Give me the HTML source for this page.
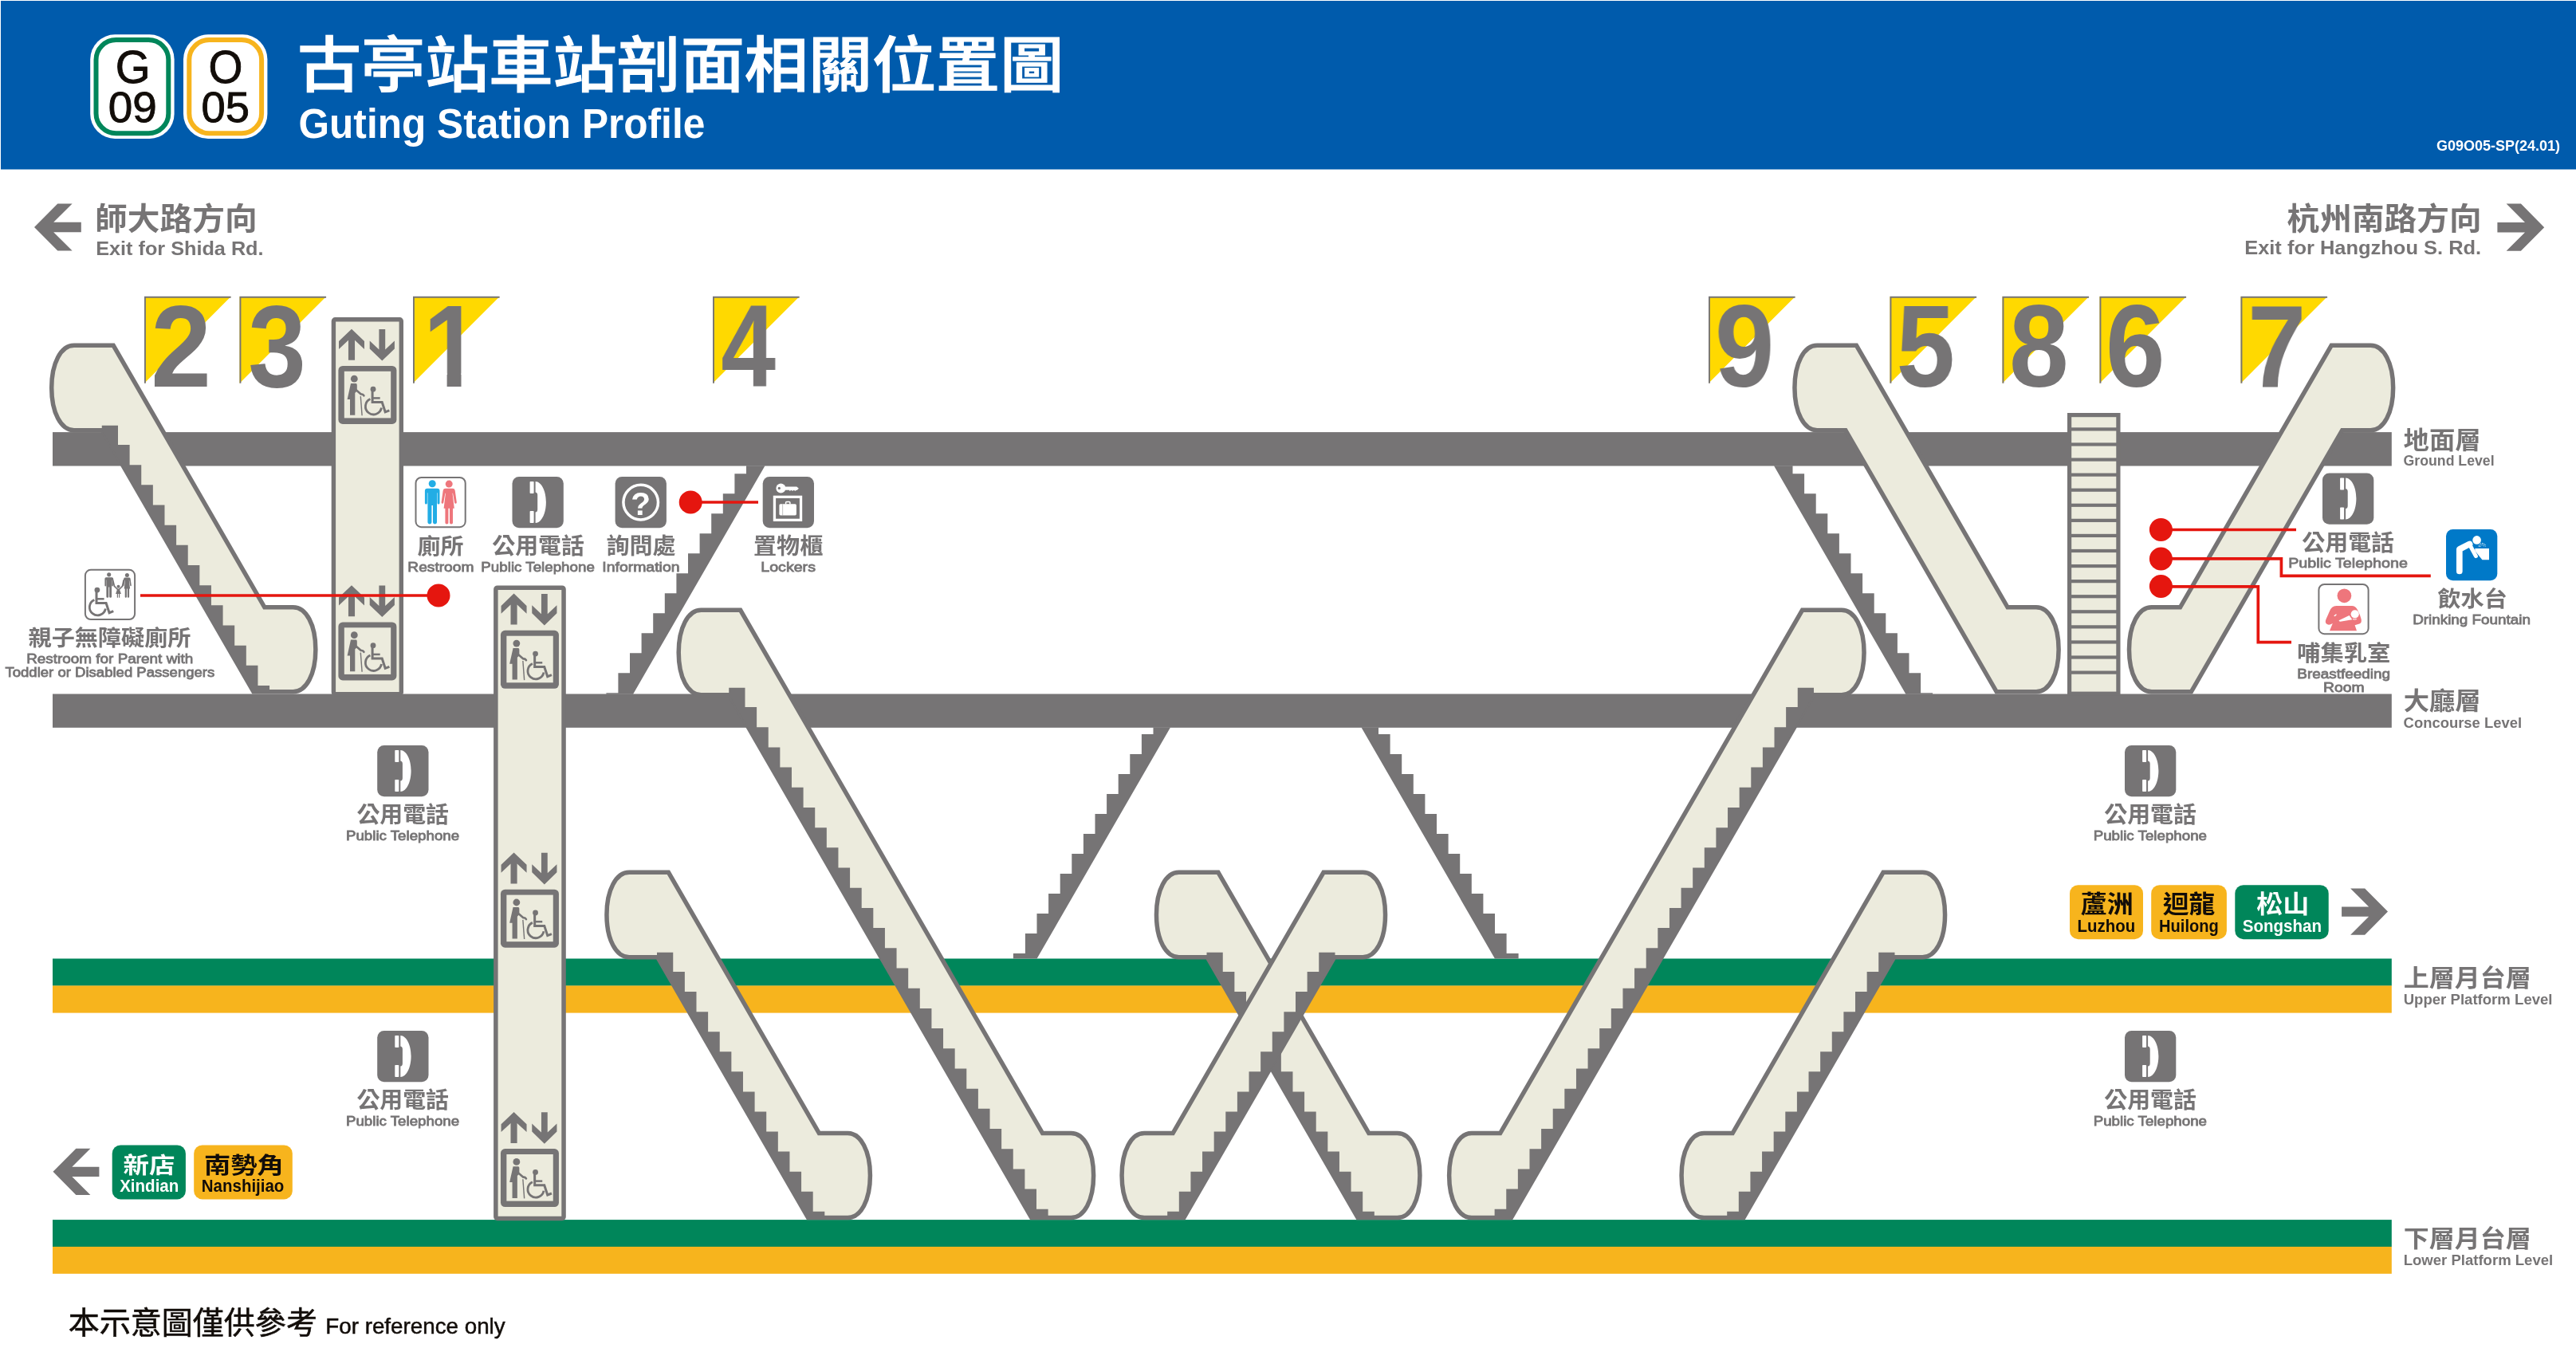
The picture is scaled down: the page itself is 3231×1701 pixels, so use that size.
<!DOCTYPE html>
<html lang="zh-Hant"><head><meta charset="utf-8"><title>古亭站車站剖面相關位置圖 Guting Station Profile</title>
<style>
html,body{margin:0;padding:0;background:#fff}
body{width:3231px;height:1701px;overflow:hidden}
svg{display:block;will-change:transform}
text{font-family:"Liberation Sans","Noto Sans CJK TC",sans-serif}
.ex{font-size:146.5px;font-weight:700;fill:#767475}
</style></head>
<body>
<svg width="3231" height="1701" viewBox="0 0 3231 1701">
<rect x="1" y="1" width="3230" height="211.5" fill="#005BAC"/>
<rect x="113.2" y="43.3" width="105.4" height="130.6" rx="31" ry="31" fill="#fff"/><rect x="120.5" y="50" width="90.8" height="117.2" rx="25" ry="25" fill="#fff" stroke="#00865A" stroke-width="6"/><text transform="translate(144.63,104) scale(0.9892,1)" style="font-size:56.96px;font-weight:400;stroke:#120d09;stroke-width:0.9px" fill="#120d09">G</text><text transform="translate(135.69,153.2) scale(1.0071,1)" style="font-size:54.49px;font-weight:400;stroke:#120d09;stroke-width:0.9px" fill="#120d09">09</text>
<rect x="230" y="43.3" width="105.4" height="130.6" rx="31" ry="31" fill="#fff"/><rect x="237.3" y="50" width="90.8" height="117.2" rx="25" ry="25" fill="#fff" stroke="#F7B41D" stroke-width="6"/><text transform="translate(261.38,104) scale(0.9692,1)" style="font-size:56.96px;font-weight:400;stroke:#120d09;stroke-width:0.9px" fill="#120d09">O</text><text transform="translate(252.5,153.2) scale(0.9982,1)" style="font-size:54.49px;font-weight:400;stroke:#120d09;stroke-width:0.9px" fill="#120d09">05</text>
<text transform="translate(372.99,108.93) scale(0.8012,0.7606)" style="font-size:100px;font-weight:500" fill="#fff" stroke="#fff" stroke-width="1.6">古亭站車站剖面相關位置圖</text>
<text transform="translate(374.49,172.5) scale(0.9562,1)" style="font-size:51.88px;font-weight:700" fill="#fff">Guting Station Profile</text>
<text transform="translate(3055.97,188.5) scale(0.9341,1)" style="font-size:19.28px;font-weight:700" fill="#fff">G09O05-SP(24.01)</text>
<polygon points="43,285 72.3,255.4 90.6,255.4 67.2,278.8 101.8,278.8 101.8,291.2 67.2,291.2 90.6,314.6 72.3,314.6" fill="#767475"/>
<polygon points="3191.2,285.2 3161.9,255.6 3143.6,255.6 3167,279 3132.4,279 3132.4,291.4 3167,291.4 3143.6,314.8 3161.9,314.8" fill="#767475"/>
<text transform="translate(119.05,288.12) scale(0.4076,0.3863)" style="font-size:100px;font-weight:700" fill="#767475">師大路方向</text>
<text transform="translate(120.16,319.5) scale(1.0252,1)" style="font-size:24.64px;font-weight:700" fill="#767475">Exit for Shida Rd.</text>
<text transform="translate(2868.59,287.94) scale(0.4068,0.3853)" style="font-size:100px;font-weight:700" fill="#767475">杭州南路方向</text>
<text transform="translate(2815.15,319.3) scale(1.0338,1)" style="font-size:24.64px;font-weight:700" fill="#767475">Exit for Hangzhou S. Rd.</text>
<clipPath id="c1"><rect x="500" y="360" width="150" height="108.5"/><rect x="560.6" y="468" width="17.9" height="20"/></clipPath>
<polygon points="181,372 289.6,372 181,480.8" fill="#FFD900"/><path d="M181.95,480.8 V372.8 H289.6" fill="none" stroke="#767475" stroke-width="1.9"/><text transform="translate(189.35,485) scale(0.93,1)" class="ex">2</text>
<polygon points="300.5,372 409.1,372 300.5,480.8" fill="#FFD900"/><path d="M301.45,480.8 V372.8 H409.1" fill="none" stroke="#767475" stroke-width="1.9"/><text transform="translate(311.3,485) scale(0.89,1)" class="ex">3</text>
<polygon points="518,372 626.6,372 518,480.8" fill="#FFD900"/><path d="M518.95,480.8 V372.8 H626.6" fill="none" stroke="#767475" stroke-width="1.9"/><g clip-path="url(#c1)"><text transform="translate(530.9,485) scale(0.875,1)" class="ex">1</text></g>
<polygon points="894,372 1002.6,372 894,480.8" fill="#FFD900"/><path d="M894.95,480.8 V372.8 H1002.6" fill="none" stroke="#767475" stroke-width="1.9"/><text transform="translate(904.3,485) scale(0.842,1)" class="ex">4</text>
<polygon points="2143,372 2251.6,372 2143,480.8" fill="#FFD900"/><path d="M2143.95,480.8 V372.8 H2251.6" fill="none" stroke="#767475" stroke-width="1.9"/><text transform="translate(2150.9,485) scale(0.915,1)" class="ex">9</text>
<polygon points="2370.5,372 2479.1,372 2370.5,480.8" fill="#FFD900"/><path d="M2371.45,480.8 V372.8 H2479.1" fill="none" stroke="#767475" stroke-width="1.9"/><text transform="translate(2378.5,485) scale(0.903,1)" class="ex">5</text>
<polygon points="2511.5,372 2620.1,372 2511.5,480.8" fill="#FFD900"/><path d="M2512.45,480.8 V372.8 H2620.1" fill="none" stroke="#767475" stroke-width="1.9"/><text transform="translate(2519.9,485) scale(0.917,1)" class="ex">8</text>
<polygon points="2633.5,372 2742.1,372 2633.5,480.8" fill="#FFD900"/><path d="M2634.45,480.8 V372.8 H2742.1" fill="none" stroke="#767475" stroke-width="1.9"/><text transform="translate(2640.9,485) scale(0.915,1)" class="ex">6</text>
<polygon points="2810.5,372 2919.1,372 2810.5,480.8" fill="#FFD900"/><path d="M2811.45,480.8 V372.8 H2919.1" fill="none" stroke="#767475" stroke-width="1.9"/><text transform="translate(2819.1,485) scale(0.9,1)" class="ex">7</text>
<rect x="66" y="542.1" width="2933.8" height="42.4" fill="#767475"/>
<rect x="66" y="870.5" width="2933.8" height="42.3" fill="#767475"/>
<rect x="66" y="1202.5" width="2933.8" height="34.2" fill="#00865A"/>
<rect x="66" y="1236.45" width="2933.8" height="34.15" fill="#F7B41D"/>
<rect x="66" y="1530.1" width="2933.8" height="34" fill="#00865A"/>
<rect x="66" y="1563.9" width="2933.8" height="33.9" fill="#F7B41D"/>
<polygon points="959.5,584.25 936,584.25 936,594.25 921.4,594.25 921.4,619.25 906.8,619.25 906.8,644.25 892.2,644.25 892.2,669.25 877.6,669.25 877.6,694.25 863,694.25 863,719.25 848.4,719.25 848.4,744.25 833.8,744.25 833.8,769.25 819.2,769.25 819.2,794.25 804.6,794.25 804.6,819.25 790,819.25 790,844.25 775.4,844.25 775.4,869.25 760.4,869.25 760.4,870.75 794.09,870.75" fill="#767475"/>
<polygon points="2225,584.25 2248.5,584.25 2248.5,594.25 2263.1,594.25 2263.1,619.25 2277.7,619.25 2277.7,644.25 2292.3,644.25 2292.3,669.25 2306.9,669.25 2306.9,694.25 2321.5,694.25 2321.5,719.25 2336.1,719.25 2336.1,744.25 2350.7,744.25 2350.7,769.25 2365.3,769.25 2365.3,794.25 2379.9,794.25 2379.9,819.25 2394.5,819.25 2394.5,844.25 2409.1,844.25 2409.1,869.25 2424.1,869.25 2424.1,870.75 2390.41,870.75" fill="#767475"/>
<polygon points="1468,912.5 1446.5,912.5 1446.5,921 1431.9,921 1431.9,946 1417.3,946 1417.3,971 1402.7,971 1402.7,996 1388.1,996 1388.1,1021 1373.5,1021 1373.5,1046 1358.9,1046 1358.9,1071 1344.3,1071 1344.3,1096 1329.7,1096 1329.7,1121 1315.1,1121 1315.1,1146 1300.5,1146 1300.5,1171 1285.9,1171 1285.9,1196 1270.9,1196 1270.9,1202.5 1300.57,1202.5" fill="#767475"/>
<polygon points="1707.5,912.5 1729,912.5 1729,921 1743.6,921 1743.6,946 1758.2,946 1758.2,971 1772.8,971 1772.8,996 1787.4,996 1787.4,1021 1802,1021 1802,1046 1816.6,1046 1816.6,1071 1831.2,1071 1831.2,1096 1845.8,1096 1845.8,1121 1860.4,1121 1860.4,1146 1875,1146 1875,1171 1889.6,1171 1889.6,1196 1904.6,1196 1904.6,1202.5 1874.93,1202.5" fill="#767475"/>
<rect x="2595.6" y="520.6" width="61.3" height="349.6" fill="#ECEBDD" stroke="#767475" stroke-width="5.2"/>
<rect x="2595" y="536.3" width="62" height="4.2" fill="#767475"/>
<rect x="2595" y="555.38" width="62" height="4.2" fill="#767475"/>
<rect x="2595" y="574.45" width="62" height="4.2" fill="#767475"/>
<rect x="2595" y="593.52" width="62" height="4.2" fill="#767475"/>
<rect x="2595" y="612.6" width="62" height="4.2" fill="#767475"/>
<rect x="2595" y="631.67" width="62" height="4.2" fill="#767475"/>
<rect x="2595" y="650.75" width="62" height="4.2" fill="#767475"/>
<rect x="2595" y="669.82" width="62" height="4.2" fill="#767475"/>
<rect x="2595" y="688.9" width="62" height="4.2" fill="#767475"/>
<rect x="2595" y="707.97" width="62" height="4.2" fill="#767475"/>
<rect x="2595" y="727.05" width="62" height="4.2" fill="#767475"/>
<rect x="2595" y="746.12" width="62" height="4.2" fill="#767475"/>
<rect x="2595" y="765.2" width="62" height="4.2" fill="#767475"/>
<rect x="2595" y="784.27" width="62" height="4.2" fill="#767475"/>
<rect x="2595" y="803.35" width="62" height="4.2" fill="#767475"/>
<rect x="2595" y="822.42" width="62" height="4.2" fill="#767475"/>
<rect x="2595" y="841.5" width="62" height="4.2" fill="#767475"/>
<path d="M92.95,433.25 L142.16,433.25 L331.82,761.75 L367.61,761.75 C384.14,761.75 395.86,783.75 395.86,814.75 C395.86,845.75 384.14,867.75 367.61,867.75 L317.97,867.75 L128.6,539.75 L92.95,539.75 C76.42,539.75 64.7,517.65 64.7,486.5 C64.7,455.35 76.42,433.25 92.95,433.25 Z" fill="#ECEBDD" stroke="#767475" stroke-width="5.5" stroke-linejoin="miter"/><polygon points="127.75,539.75 127.75,533.75 148,533.75 148,558 162.62,558 162.62,583.17 177.24,583.17 177.24,608.33 191.86,608.33 191.86,633.5 206.48,633.5 206.48,658.67 221.1,658.67 221.1,683.83 235.72,683.83 235.72,709 250.34,709 250.34,734.17 264.96,734.17 264.96,759.33 279.58,759.33 279.58,784.5 294.2,784.5 294.2,809.67 308.82,809.67 308.82,834.83 323.44,834.83 323.44,860 338.06,860 338.06,869.5 316.81,869.5 128.01,539.75" fill="#767475"/>
<path d="M2279.2,433.25 L2328.41,433.25 L2518.07,761.75 L2553.86,761.75 C2570.39,761.75 2582.11,783.75 2582.11,814.75 C2582.11,845.75 2570.39,867.75 2553.86,867.75 L2504.22,867.75 L2314.85,539.75 L2279.2,539.75 C2262.67,539.75 2250.95,517.65 2250.95,486.5 C2250.95,455.35 2262.67,433.25 2279.2,433.25 Z" fill="#ECEBDD" stroke="#767475" stroke-width="5.5" stroke-linejoin="miter"/>
<path d="M2973.4,433.25 L2924.19,433.25 L2734.53,761.75 L2698.74,761.75 C2682.21,761.75 2670.49,783.75 2670.49,814.75 C2670.49,845.75 2682.21,867.75 2698.74,867.75 L2748.38,867.75 L2937.75,539.75 L2973.4,539.75 C2989.93,539.75 3001.65,517.65 3001.65,486.5 C3001.65,455.35 2989.93,433.25 2973.4,433.25 Z" fill="#ECEBDD" stroke="#767475" stroke-width="5.5" stroke-linejoin="miter"/>
<path d="M879.45,765.25 L928.66,765.25 L1307.58,1421.55 L1343.36,1421.55 C1359.89,1421.55 1371.61,1443.54 1371.61,1474.55 C1371.61,1505.56 1359.89,1527.55 1343.36,1527.55 L1293.73,1527.55 L915.1,871.75 L879.45,871.75 C862.92,871.75 851.2,849.65 851.2,818.5 C851.2,787.35 862.92,765.25 879.45,765.25 Z" fill="#ECEBDD" stroke="#767475" stroke-width="5.5" stroke-linejoin="miter"/><polygon points="914.25,871.75 914.25,862.75 934.5,862.75 934.5,887 949.12,887 949.12,912.19 963.74,912.19 963.74,937.38 978.36,937.38 978.36,962.58 992.98,962.58 992.98,987.77 1007.6,987.77 1007.6,1012.96 1022.22,1012.96 1022.22,1038.15 1036.84,1038.15 1036.84,1063.34 1051.46,1063.34 1051.46,1088.54 1066.08,1088.54 1066.08,1113.73 1080.7,1113.73 1080.7,1138.92 1095.32,1138.92 1095.32,1164.11 1109.94,1164.11 1109.94,1189.3 1124.56,1189.3 1124.56,1214.5 1139.18,1214.5 1139.18,1239.69 1153.8,1239.69 1153.8,1264.88 1168.42,1264.88 1168.42,1290.07 1183.04,1290.07 1183.04,1315.26 1197.66,1315.26 1197.66,1340.46 1212.28,1340.46 1212.28,1365.65 1226.9,1365.65 1226.9,1390.84 1241.52,1390.84 1241.52,1416.03 1256.14,1416.03 1256.14,1441.22 1270.76,1441.22 1270.76,1466.42 1285.38,1466.42 1285.38,1491.61 1300,1491.61 1300,1516.8 1314.62,1516.8 1314.62,1529.3 1292.56,1529.3 914.51,871.75" fill="#767475"/>
<path d="M2309.8,765.25 L2260.59,765.25 L1881.67,1421.55 L1845.89,1421.55 C1829.36,1421.55 1817.64,1443.54 1817.64,1474.55 C1817.64,1505.56 1829.36,1527.55 1845.89,1527.55 L1895.52,1527.55 L2274.15,871.75 L2309.8,871.75 C2326.33,871.75 2338.05,849.65 2338.05,818.5 C2338.05,787.35 2326.33,765.25 2309.8,765.25 Z" fill="#ECEBDD" stroke="#767475" stroke-width="5.5" stroke-linejoin="miter"/><polygon points="2275,871.75 2275,862.75 2254.75,862.75 2254.75,887 2240.13,887 2240.13,912.19 2225.51,912.19 2225.51,937.38 2210.89,937.38 2210.89,962.58 2196.27,962.58 2196.27,987.77 2181.65,987.77 2181.65,1012.96 2167.03,1012.96 2167.03,1038.15 2152.41,1038.15 2152.41,1063.34 2137.79,1063.34 2137.79,1088.54 2123.17,1088.54 2123.17,1113.73 2108.55,1113.73 2108.55,1138.92 2093.93,1138.92 2093.93,1164.11 2079.31,1164.11 2079.31,1189.3 2064.69,1189.3 2064.69,1214.5 2050.07,1214.5 2050.07,1239.69 2035.45,1239.69 2035.45,1264.88 2020.83,1264.88 2020.83,1290.07 2006.21,1290.07 2006.21,1315.26 1991.59,1315.26 1991.59,1340.46 1976.97,1340.46 1976.97,1365.65 1962.35,1365.65 1962.35,1390.84 1947.73,1390.84 1947.73,1416.03 1933.11,1416.03 1933.11,1441.22 1918.49,1441.22 1918.49,1466.42 1903.87,1466.42 1903.87,1491.61 1889.25,1491.61 1889.25,1516.8 1874.63,1516.8 1874.63,1529.3 1896.69,1529.3 2274.74,871.75" fill="#767475"/>
<path d="M789.2,1094.25 L838.41,1094.25 L1027.38,1421.55 L1063.17,1421.55 C1079.69,1421.55 1091.42,1443.54 1091.42,1474.55 C1091.42,1505.56 1079.69,1527.55 1063.17,1527.55 L1013.53,1527.55 L824.85,1200.75 L789.2,1200.75 C772.67,1200.75 760.95,1178.65 760.95,1147.5 C760.95,1116.35 772.67,1094.25 789.2,1094.25 Z" fill="#ECEBDD" stroke="#767475" stroke-width="5.5" stroke-linejoin="miter"/><polygon points="824,1200.75 824,1194.75 844.25,1194.75 844.25,1219 858.87,1219 858.87,1244.07 873.49,1244.07 873.49,1269.13 888.11,1269.13 888.11,1294.2 902.73,1294.2 902.73,1319.27 917.35,1319.27 917.35,1344.33 931.97,1344.33 931.97,1369.4 946.59,1369.4 946.59,1394.47 961.21,1394.47 961.21,1419.53 975.83,1419.53 975.83,1444.6 990.45,1444.6 990.45,1469.67 1005.07,1469.67 1005.07,1494.73 1019.69,1494.73 1019.69,1519.8 1034.31,1519.8 1034.31,1529.3 1012.36,1529.3 824.26,1200.75" fill="#767475"/>
<path d="M1478.7,1094.25 L1527.91,1094.25 L1716.88,1421.55 L1752.67,1421.55 C1769.19,1421.55 1780.92,1443.54 1780.92,1474.55 C1780.92,1505.56 1769.19,1527.55 1752.67,1527.55 L1703.03,1527.55 L1514.35,1200.75 L1478.7,1200.75 C1462.17,1200.75 1450.45,1178.65 1450.45,1147.5 C1450.45,1116.35 1462.17,1094.25 1478.7,1094.25 Z" fill="#ECEBDD" stroke="#767475" stroke-width="5.5" stroke-linejoin="miter"/><polygon points="1513.5,1200.75 1513.5,1194.75 1533.75,1194.75 1533.75,1219 1548.37,1219 1548.37,1244.07 1562.99,1244.07 1562.99,1269.13 1577.61,1269.13 1577.61,1294.2 1592.23,1294.2 1592.23,1319.27 1606.85,1319.27 1606.85,1344.33 1621.47,1344.33 1621.47,1369.4 1636.09,1369.4 1636.09,1394.47 1650.71,1394.47 1650.71,1419.53 1665.33,1419.53 1665.33,1444.6 1679.95,1444.6 1679.95,1469.67 1694.57,1469.67 1694.57,1494.73 1709.19,1494.73 1709.19,1519.8 1723.81,1519.8 1723.81,1529.3 1701.86,1529.3 1513.76,1200.75" fill="#767475"/>
<path d="M1709.3,1094.25 L1660.09,1094.25 L1471.12,1421.55 L1435.33,1421.55 C1418.81,1421.55 1407.08,1443.54 1407.08,1474.55 C1407.08,1505.56 1418.81,1527.55 1435.33,1527.55 L1484.97,1527.55 L1673.65,1200.75 L1709.3,1200.75 C1725.83,1200.75 1737.55,1178.65 1737.55,1147.5 C1737.55,1116.35 1725.83,1094.25 1709.3,1094.25 Z" fill="#ECEBDD" stroke="#767475" stroke-width="5.5" stroke-linejoin="miter"/><polygon points="1674.5,1200.75 1674.5,1194.75 1654.25,1194.75 1654.25,1219 1639.63,1219 1639.63,1244.07 1625.01,1244.07 1625.01,1269.13 1610.39,1269.13 1610.39,1294.2 1595.77,1294.2 1595.77,1319.27 1581.15,1319.27 1581.15,1344.33 1566.53,1344.33 1566.53,1369.4 1551.91,1369.4 1551.91,1394.47 1537.29,1394.47 1537.29,1419.53 1522.67,1419.53 1522.67,1444.6 1508.05,1444.6 1508.05,1469.67 1493.43,1469.67 1493.43,1494.73 1478.81,1494.73 1478.81,1519.8 1464.19,1519.8 1464.19,1529.3 1486.14,1529.3 1674.24,1200.75" fill="#767475"/>
<path d="M2411.3,1094.25 L2362.09,1094.25 L2173.12,1421.55 L2137.33,1421.55 C2120.81,1421.55 2109.08,1443.54 2109.08,1474.55 C2109.08,1505.56 2120.81,1527.55 2137.33,1527.55 L2186.97,1527.55 L2375.65,1200.75 L2411.3,1200.75 C2427.83,1200.75 2439.55,1178.65 2439.55,1147.5 C2439.55,1116.35 2427.83,1094.25 2411.3,1094.25 Z" fill="#ECEBDD" stroke="#767475" stroke-width="5.5" stroke-linejoin="miter"/><polygon points="2376.5,1200.75 2376.5,1194.75 2356.25,1194.75 2356.25,1219 2341.63,1219 2341.63,1244.07 2327.01,1244.07 2327.01,1269.13 2312.39,1269.13 2312.39,1294.2 2297.77,1294.2 2297.77,1319.27 2283.15,1319.27 2283.15,1344.33 2268.53,1344.33 2268.53,1369.4 2253.91,1369.4 2253.91,1394.47 2239.29,1394.47 2239.29,1419.53 2224.67,1419.53 2224.67,1444.6 2210.05,1444.6 2210.05,1469.67 2195.43,1469.67 2195.43,1494.73 2180.81,1494.73 2180.81,1519.8 2166.19,1519.8 2166.19,1529.3 2188.14,1529.3 2376.24,1200.75" fill="#767475"/>
<rect x="418.4" y="400.8" width="84.9" height="469.8" rx="2" fill="#ECEBDD" stroke="#767475" stroke-width="5.4"/>
<rect x="621.85" y="737.15" width="85.2" height="791.3" rx="2" fill="#ECEBDD" stroke="#767475" stroke-width="5.5"/>
<polygon points="441,412.7 457,428 457,437.9 445.05,426.7 445.05,451.7 436.95,451.7 436.95,426.7 425,437.9 425,428" fill="#767475"/><polygon points="479.3,452.6 494.9,437.4 494.9,427.4 483.2,438.4 483.2,413 475.4,413 475.4,438.4 463.7,427.4 463.7,437.4" fill="#767475"/><rect x="424.4" y="458.9" width="73" height="73" rx="5.5" ry="5.5" fill="#767475"/><rect x="431.8" y="465.8" width="58.4" height="58.6" fill="#ECEBDD"/><g transform="translate(424.4,458.9)"><circle cx="19.9" cy="16.3" r="4.4" fill="#767475"/><path d="M15.6,22.2 H22 Q23.4,22.4 23.4,24 V31.4 L20.9,34 V61.8 H14.6 V42 H11.2 Z" fill="#767475"/><path d="M22.6,30.6 L28.4,35.6 Q30.6,35.2 32,37.4" fill="none" stroke="#767475" stroke-width="2.6" stroke-linecap="round" stroke-linejoin="round"/><path d="M27.9,38.2 L29.7,62.3" stroke="#767475" stroke-width="1.4"/><circle cx="43.6" cy="29.3" r="3.4" fill="#767475"/><path d="M42.7,29.3 V45.7 H54.8 L58.8,57.9 L64,55.9" fill="none" stroke="#767475" stroke-width="3" stroke-linejoin="miter" stroke-linecap="butt"/><path d="M42.7,40.5 H52.3" stroke="#767475" stroke-width="2.5"/><path d="M39.99,41.67 A10.1,10.1 0 1 0 54.05,52.65" fill="none" stroke="#767475" stroke-width="2.8"/></g>
<polygon points="441,734.2 457,749.5 457,759.4 445.05,748.2 445.05,773.2 436.95,773.2 436.95,748.2 425,759.4 425,749.5" fill="#767475"/><polygon points="479.3,774.1 494.9,758.9 494.9,748.9 483.2,759.9 483.2,734.5 475.4,734.5 475.4,759.9 463.7,748.9 463.7,758.9" fill="#767475"/><rect x="424.4" y="780.4" width="73" height="73" rx="5.5" ry="5.5" fill="#767475"/><rect x="431.8" y="787.3" width="58.4" height="58.6" fill="#ECEBDD"/><g transform="translate(424.4,780.4)"><circle cx="19.9" cy="16.3" r="4.4" fill="#767475"/><path d="M15.6,22.2 H22 Q23.4,22.4 23.4,24 V31.4 L20.9,34 V61.8 H14.6 V42 H11.2 Z" fill="#767475"/><path d="M22.6,30.6 L28.4,35.6 Q30.6,35.2 32,37.4" fill="none" stroke="#767475" stroke-width="2.6" stroke-linecap="round" stroke-linejoin="round"/><path d="M27.9,38.2 L29.7,62.3" stroke="#767475" stroke-width="1.4"/><circle cx="43.6" cy="29.3" r="3.4" fill="#767475"/><path d="M42.7,29.3 V45.7 H54.8 L58.8,57.9 L64,55.9" fill="none" stroke="#767475" stroke-width="3" stroke-linejoin="miter" stroke-linecap="butt"/><path d="M42.7,40.5 H52.3" stroke="#767475" stroke-width="2.5"/><path d="M39.99,41.67 A10.1,10.1 0 1 0 54.05,52.65" fill="none" stroke="#767475" stroke-width="2.8"/></g>
<polygon points="644.55,744.6 660.55,759.9 660.55,769.8 648.6,758.6 648.6,783.6 640.5,783.6 640.5,758.6 628.55,769.8 628.55,759.9" fill="#767475"/><polygon points="682.85,784.5 698.45,769.3 698.45,759.3 686.75,770.3 686.75,744.9 678.95,744.9 678.95,770.3 667.25,759.3 667.25,769.3" fill="#767475"/><rect x="627.95" y="790.8" width="73" height="73" rx="5.5" ry="5.5" fill="#767475"/><rect x="635.35" y="797.7" width="58.4" height="58.6" fill="#ECEBDD"/><g transform="translate(627.95,790.8)"><circle cx="19.9" cy="16.3" r="4.4" fill="#767475"/><path d="M15.6,22.2 H22 Q23.4,22.4 23.4,24 V31.4 L20.9,34 V61.8 H14.6 V42 H11.2 Z" fill="#767475"/><path d="M22.6,30.6 L28.4,35.6 Q30.6,35.2 32,37.4" fill="none" stroke="#767475" stroke-width="2.6" stroke-linecap="round" stroke-linejoin="round"/><path d="M27.9,38.2 L29.7,62.3" stroke="#767475" stroke-width="1.4"/><circle cx="43.6" cy="29.3" r="3.4" fill="#767475"/><path d="M42.7,29.3 V45.7 H54.8 L58.8,57.9 L64,55.9" fill="none" stroke="#767475" stroke-width="3" stroke-linejoin="miter" stroke-linecap="butt"/><path d="M42.7,40.5 H52.3" stroke="#767475" stroke-width="2.5"/><path d="M39.99,41.67 A10.1,10.1 0 1 0 54.05,52.65" fill="none" stroke="#767475" stroke-width="2.8"/></g>
<polygon points="644.55,1069.5 660.55,1084.8 660.55,1094.7 648.6,1083.5 648.6,1108.5 640.5,1108.5 640.5,1083.5 628.55,1094.7 628.55,1084.8" fill="#767475"/><polygon points="682.85,1109.4 698.45,1094.2 698.45,1084.2 686.75,1095.2 686.75,1069.8 678.95,1069.8 678.95,1095.2 667.25,1084.2 667.25,1094.2" fill="#767475"/><rect x="627.95" y="1115.7" width="73" height="73" rx="5.5" ry="5.5" fill="#767475"/><rect x="635.35" y="1122.6" width="58.4" height="58.6" fill="#ECEBDD"/><g transform="translate(627.95,1115.7)"><circle cx="19.9" cy="16.3" r="4.4" fill="#767475"/><path d="M15.6,22.2 H22 Q23.4,22.4 23.4,24 V31.4 L20.9,34 V61.8 H14.6 V42 H11.2 Z" fill="#767475"/><path d="M22.6,30.6 L28.4,35.6 Q30.6,35.2 32,37.4" fill="none" stroke="#767475" stroke-width="2.6" stroke-linecap="round" stroke-linejoin="round"/><path d="M27.9,38.2 L29.7,62.3" stroke="#767475" stroke-width="1.4"/><circle cx="43.6" cy="29.3" r="3.4" fill="#767475"/><path d="M42.7,29.3 V45.7 H54.8 L58.8,57.9 L64,55.9" fill="none" stroke="#767475" stroke-width="3" stroke-linejoin="miter" stroke-linecap="butt"/><path d="M42.7,40.5 H52.3" stroke="#767475" stroke-width="2.5"/><path d="M39.99,41.67 A10.1,10.1 0 1 0 54.05,52.65" fill="none" stroke="#767475" stroke-width="2.8"/></g>
<polygon points="644.55,1394.9 660.55,1410.2 660.55,1420.1 648.6,1408.9 648.6,1433.9 640.5,1433.9 640.5,1408.9 628.55,1420.1 628.55,1410.2" fill="#767475"/><polygon points="682.85,1434.8 698.45,1419.6 698.45,1409.6 686.75,1420.6 686.75,1395.2 678.95,1395.2 678.95,1420.6 667.25,1409.6 667.25,1419.6" fill="#767475"/><rect x="627.95" y="1441.1" width="73" height="73" rx="5.5" ry="5.5" fill="#767475"/><rect x="635.35" y="1448" width="58.4" height="58.6" fill="#ECEBDD"/><g transform="translate(627.95,1441.1)"><circle cx="19.9" cy="16.3" r="4.4" fill="#767475"/><path d="M15.6,22.2 H22 Q23.4,22.4 23.4,24 V31.4 L20.9,34 V61.8 H14.6 V42 H11.2 Z" fill="#767475"/><path d="M22.6,30.6 L28.4,35.6 Q30.6,35.2 32,37.4" fill="none" stroke="#767475" stroke-width="2.6" stroke-linecap="round" stroke-linejoin="round"/><path d="M27.9,38.2 L29.7,62.3" stroke="#767475" stroke-width="1.4"/><circle cx="43.6" cy="29.3" r="3.4" fill="#767475"/><path d="M42.7,29.3 V45.7 H54.8 L58.8,57.9 L64,55.9" fill="none" stroke="#767475" stroke-width="3" stroke-linejoin="miter" stroke-linecap="butt"/><path d="M42.7,40.5 H52.3" stroke="#767475" stroke-width="2.5"/><path d="M39.99,41.67 A10.1,10.1 0 1 0 54.05,52.65" fill="none" stroke="#767475" stroke-width="2.8"/></g>
<path d="M176,747 H550" stroke="#E5160F" stroke-width="3.7" fill="none"/>
<circle cx="550" cy="747" r="14.5" fill="#E5160F"/>
<path d="M866,630 H951" stroke="#E5160F" stroke-width="3.7" fill="none"/>
<circle cx="866.2" cy="630" r="14.5" fill="#E5160F"/>
<path d="M2710.4,664.5 H2880 M2710.4,700.8 H2861.4 V722.4 H3048.8 M2710.4,735.8 H2832.3 V805.6 H2874" stroke="#E5160F" stroke-width="3.7" fill="none"/>
<circle cx="2710.4" cy="664.5" r="14.5" fill="#E5160F"/>
<circle cx="2710.4" cy="701" r="14.5" fill="#E5160F"/>
<circle cx="2710.4" cy="735.5" r="14.5" fill="#E5160F"/>
<g transform="translate(520.5,598)"><rect x="1" y="1" width="62.2" height="62.2" rx="7" ry="7" fill="#fff" stroke="#767475" stroke-width="2"/><circle cx="21.7" cy="8.8" r="4.5" fill="#22ADE5"/><path d="M15.4,14.7 H28 Q31,14.7 31,17.7 V32.9 Q31,34.5 29.5,34.5 Q28,34.5 28,32.9 V20.3 H27.5 V57.3 Q27.5,59.4 25,59.4 Q22.5,59.4 22.5,57.3 V36.1 H20.9 V57.3 Q20.9,59.4 18.4,59.4 Q15.9,59.4 15.9,57.3 V20.3 H15.4 V32.9 Q15.4,34.5 13.9,34.5 Q12.4,34.5 12.4,32.9 V17.7 Q12.4,14.7 15.4,14.7 Z" fill="#22ADE5"/><circle cx="42.7" cy="9.1" r="4.5" fill="#EE767C"/><path d="M38.1,14.8 H47.3 Q49.7,14.8 50.2,17.2 L52.3,32 Q52.4,33.6 51.2,33.8 Q49.9,33.9 49.6,32.6 L47.5,20.8 H47 L49.3,39.8 H47.5 V57.8 Q47.5,59.6 45.5,59.6 Q43.5,59.6 43.5,57.8 V39.8 H41.9 V57.8 Q41.9,59.6 39.9,59.6 Q37.9,59.6 37.9,57.8 V39.8 H36.1 L38.4,20.8 H37.9 L35.8,32.6 Q35.5,33.9 34.2,33.8 Q33,33.6 33.1,32 L35.2,17.2 Q35.7,14.8 38.1,14.8 Z" fill="#EE767C"/></g>
<text transform="translate(523.48,695.24) scale(0.2900,0.2756)" style="font-size:100px;font-weight:700" fill="#767475">廁所</text>
<text transform="translate(511.32,716.7) scale(1.1217,1)" style="font-size:17.1px;font-weight:400;stroke:#767475;stroke-width:0.8px" fill="#767475">Restroom</text>
<g transform="translate(642.5,598)"><rect x="0" y="0" width="64.3" height="64.3" rx="8.5" ry="8.5" fill="#767475"/><rect x="22.1" y="6" width="5" height="15" rx=".8" fill="#fff"/><rect x="22.1" y="42.9" width="5" height="15.2" rx=".8" fill="#fff"/><path d="M29.1,6 C36.5,6.3 42.4,17.5 42.4,31.8 C42.4,46.5 36.5,57.8 29.1,58.1 V44.6 C31,44.2 31.7,43 31.7,41 V23 C31.7,21 31,19.8 29.1,19.4 Z" fill="#fff"/></g>
<text transform="translate(617.23,695.33) scale(0.2892,0.2815)" style="font-size:100px;font-weight:700" fill="#767475">公用電話</text>
<text transform="translate(603.35,716.7) scale(1.0973,1)" style="font-size:17.1px;font-weight:400;stroke:#767475;stroke-width:0.8px" fill="#767475">Public Telephone</text>
<g transform="translate(771.6,598)"><rect x="0" y="0" width="64.3" height="64.3" rx="8.5" ry="8.5" fill="#767475"/><circle cx="32.1" cy="32.1" r="21.8" fill="none" stroke="#fff" stroke-width="3.5"/><text x="32.1" y="48.3" text-anchor="middle" style="font-size:40.5px;font-weight:700;fill:#fff">?</text></g>
<text transform="translate(760.41,695.47) scale(0.2905,0.2815)" style="font-size:100px;font-weight:700" fill="#767475">詢問處</text>
<text transform="translate(755.29,716.7) scale(1.1373,1)" style="font-size:17.1px;font-weight:400;stroke:#767475;stroke-width:0.8px" fill="#767475">Information</text>
<g transform="translate(956.7,598)"><rect x="0" y="0" width="64.3" height="64.3" rx="8.5" ry="8.5" fill="#767475"/><circle cx="22.7" cy="14.6" r="6" fill="#fff"/><circle cx="20.6" cy="14.4" r="1.6" fill="#767475"/><path d="M27,12.6 H42.6 L45.2,14.8 L42.8,17 H41.6 L40.6,18 L39.5,17 H38.4 L37.4,18 L36.3,17 H35.2 L34.2,18 L33,16.8 H27 Z" fill="#fff"/><rect x="14.75" y="25.35" width="33.1" height="29" fill="none" stroke="#fff" stroke-width="3.3"/><rect x="20.7" y="34.3" width="21.5" height="14.1" rx="1.6" fill="#fff"/><path d="M28.9,34.6 V32.6 Q28.9,31.6 29.9,31.6 H33.2 Q34.2,31.6 34.2,32.6 V34.6" fill="none" stroke="#fff" stroke-width="1.5"/><rect x="24.6" y="34.3" width=".8" height="14.1" fill="#767475" opacity=".55"/></g>
<text transform="translate(944.92,695.45) scale(0.2915,0.2830)" style="font-size:100px;font-weight:700" fill="#767475">置物櫃</text>
<text transform="translate(954.28,716.7) scale(1.1478,1)" style="font-size:17.1px;font-weight:400;stroke:#767475;stroke-width:0.8px" fill="#767475">Lockers</text>
<g transform="translate(105.9,713.8)"><rect x="1" y="1" width="62.2" height="62.2" rx="7" ry="7" fill="#fff" stroke="#767475" stroke-width="2"/><circle cx="16" cy="26.3" r="3.4" fill="#767475"/><path d="M15.1,26.3 V42.7 H27.2 L31.2,54.9 L36.4,52.9" fill="none" stroke="#767475" stroke-width="3" stroke-linejoin="miter" stroke-linecap="butt"/><path d="M15.1,37.5 H24.7" stroke="#767475" stroke-width="2.5"/><path d="M12.39,38.67 A10.1,10.1 0 1 0 26.45,49.65" fill="none" stroke="#767475" stroke-width="2.8"/><circle cx="30.8" cy="7.06" r="2.56" fill="#767475"/><path d="M27.21,10.43 H34.39 Q36.1,10.43 36.1,12.14 V20.8 Q36.1,21.71 35.25,21.71 Q34.39,21.71 34.39,20.8 V13.62 H34.11 V34.71 Q34.11,35.91 32.68,35.91 Q31.26,35.91 31.26,34.71 V22.63 H30.34 V34.71 Q30.34,35.91 28.92,35.91 Q27.49,35.91 27.49,34.71 V13.62 H27.21 V20.8 Q27.21,21.71 26.35,21.71 Q25.5,21.71 25.5,20.8 V12.14 Q25.5,10.43 27.21,10.43 Z" fill="#767475"/><circle cx="53.5" cy="7.62" r="2.52" fill="#767475"/><path d="M50.92,10.81 H56.08 Q57.42,10.81 57.7,12.16 L58.88,20.44 Q58.93,21.34 58.26,21.45 Q57.53,21.51 57.36,20.78 L56.19,14.17 H55.91 L57.2,24.81 H56.19 V34.89 Q56.19,35.9 55.07,35.9 Q53.95,35.9 53.95,34.89 V24.81 H53.05 V34.89 Q53.05,35.9 51.93,35.9 Q50.81,35.9 50.81,34.89 V24.81 H49.8 L51.09,14.17 H50.81 L49.64,20.78 Q49.47,21.51 48.74,21.45 Q48.07,21.34 48.12,20.44 L49.3,12.16 Q49.58,10.81 50.92,10.81 Z" fill="#767475"/><path d="M35.2,12 L37.6,21.6 M49.2,14 L47.6,21.6" stroke="#767475" stroke-width="1.7" stroke-linecap="round"/><circle cx="42.6" cy="21.9" r="2" fill="#767475"/><path d="M37.6,21.6 L41.6,25.6 H43.6 L47.6,21.6" fill="none" stroke="#767475" stroke-width="1.5" stroke-linecap="round" stroke-linejoin="round"/><path d="M41.3,24.9 H43.9 L46,31.1 H39.2 Z" fill="#767475"/><rect x="40.9" y="31" width="1.2" height="4.9" fill="#767475"/><rect x="43.1" y="31" width="1.2" height="4.9" fill="#767475"/></g>
<text transform="translate(35.53,810.48) scale(0.2914,0.2715)" style="font-size:100px;font-weight:700" fill="#767475">親子無障礙廁所</text>
<text transform="translate(33.14,832) scale(1.1072,1)" style="font-size:17.1px;font-weight:400;stroke:#767475;stroke-width:0.8px" fill="#767475">Restroom for Parent with</text>
<text transform="translate(6.46,848.7) scale(1.0851,1)" style="font-size:17.1px;font-weight:400;stroke:#767475;stroke-width:0.8px" fill="#767475">Toddler or Disabled Passengers</text>
<g transform="translate(473.2,935)"><rect x="0" y="0" width="64.3" height="64.3" rx="8.5" ry="8.5" fill="#767475"/><rect x="22.1" y="6" width="5" height="15" rx=".8" fill="#fff"/><rect x="22.1" y="42.9" width="5" height="15.2" rx=".8" fill="#fff"/><path d="M29.1,6 C36.5,6.3 42.4,17.5 42.4,31.8 C42.4,46.5 36.5,57.8 29.1,58.1 V44.6 C31,44.2 31.7,43 31.7,41 V23 C31.7,21 31,19.8 29.1,19.4 Z" fill="#fff"/></g>
<text transform="translate(447.43,1032.33) scale(0.2892,0.2815)" style="font-size:100px;font-weight:700" fill="#767475">公用電話</text>
<text transform="translate(433.91,1053.7) scale(1.0957,1)" style="font-size:17.1px;font-weight:400;stroke:#767475;stroke-width:0.8px" fill="#767475">Public Telephone</text>
<g transform="translate(473.2,1293)"><rect x="0" y="0" width="64.3" height="64.3" rx="8.5" ry="8.5" fill="#767475"/><rect x="22.1" y="6" width="5" height="15" rx=".8" fill="#fff"/><rect x="22.1" y="42.9" width="5" height="15.2" rx=".8" fill="#fff"/><path d="M29.1,6 C36.5,6.3 42.4,17.5 42.4,31.8 C42.4,46.5 36.5,57.8 29.1,58.1 V44.6 C31,44.2 31.7,43 31.7,41 V23 C31.7,21 31,19.8 29.1,19.4 Z" fill="#fff"/></g>
<text transform="translate(447.43,1390.33) scale(0.2892,0.2815)" style="font-size:100px;font-weight:700" fill="#767475">公用電話</text>
<text transform="translate(433.91,1411.7) scale(1.0957,1)" style="font-size:17.1px;font-weight:400;stroke:#767475;stroke-width:0.8px" fill="#767475">Public Telephone</text>
<g transform="translate(2665,935)"><rect x="0" y="0" width="64.3" height="64.3" rx="8.5" ry="8.5" fill="#767475"/><rect x="22.1" y="6" width="5" height="15" rx=".8" fill="#fff"/><rect x="22.1" y="42.9" width="5" height="15.2" rx=".8" fill="#fff"/><path d="M29.1,6 C36.5,6.3 42.4,17.5 42.4,31.8 C42.4,46.5 36.5,57.8 29.1,58.1 V44.6 C31,44.2 31.7,43 31.7,41 V23 C31.7,21 31,19.8 29.1,19.4 Z" fill="#fff"/></g>
<text transform="translate(2639.23,1032.33) scale(0.2892,0.2815)" style="font-size:100px;font-weight:700" fill="#767475">公用電話</text>
<text transform="translate(2625.71,1053.7) scale(1.0957,1)" style="font-size:17.1px;font-weight:400;stroke:#767475;stroke-width:0.8px" fill="#767475">Public Telephone</text>
<g transform="translate(2665,1293)"><rect x="0" y="0" width="64.3" height="64.3" rx="8.5" ry="8.5" fill="#767475"/><rect x="22.1" y="6" width="5" height="15" rx=".8" fill="#fff"/><rect x="22.1" y="42.9" width="5" height="15.2" rx=".8" fill="#fff"/><path d="M29.1,6 C36.5,6.3 42.4,17.5 42.4,31.8 C42.4,46.5 36.5,57.8 29.1,58.1 V44.6 C31,44.2 31.7,43 31.7,41 V23 C31.7,21 31,19.8 29.1,19.4 Z" fill="#fff"/></g>
<text transform="translate(2639.23,1390.33) scale(0.2892,0.2815)" style="font-size:100px;font-weight:700" fill="#767475">公用電話</text>
<text transform="translate(2625.71,1411.7) scale(1.0957,1)" style="font-size:17.1px;font-weight:400;stroke:#767475;stroke-width:0.8px" fill="#767475">Public Telephone</text>
<g transform="translate(2913,593.5)"><rect x="0" y="0" width="64.3" height="64.3" rx="8.5" ry="8.5" fill="#767475"/><rect x="22.1" y="6" width="5" height="15" rx=".8" fill="#fff"/><rect x="22.1" y="42.9" width="5" height="15.2" rx=".8" fill="#fff"/><path d="M29.1,6 C36.5,6.3 42.4,17.5 42.4,31.8 C42.4,46.5 36.5,57.8 29.1,58.1 V44.6 C31,44.2 31.7,43 31.7,41 V23 C31.7,21 31,19.8 29.1,19.4 Z" fill="#fff"/></g>
<text transform="translate(2887.33,690.73) scale(0.2892,0.2815)" style="font-size:100px;font-weight:700" fill="#767475">公用電話</text>
<text transform="translate(2870.22,711.8) scale(1.1522,1)" style="font-size:17.1px;font-weight:400;stroke:#767475;stroke-width:0.8px" fill="#767475">Public Telephone</text>
<g transform="translate(3068,664)"><rect x="0" y="0" width="64.3" height="64.3" rx="8.5" ry="8.5" fill="#0079C8"/><path d="M16.8,52.4 V25 L29.6,18.4" fill="none" stroke="#fff" stroke-width="7.7" stroke-linecap="round" stroke-linejoin="round"/><path d="M30.6,21 L37.4,33.6" stroke="#fff" stroke-width="5" stroke-linecap="round"/><circle cx="38.6" cy="13.4" r="5.3" fill="#fff"/><path d="M36.3,24 H54 V38.2 H45.4 L36.3,27 Z" fill="#fff"/><path d="M41.2,21.6 Q42,17.6 45.4,17.6 Q48.8,17.6 49.6,21.4" fill="none" stroke="#fff" stroke-width="1.1" stroke-dasharray="1,1"/><path d="M42.8,22 Q43.2,19.6 45.4,19.6 Q47.4,19.6 47.8,21.8" fill="none" stroke="#fff" stroke-width="1" stroke-dasharray="1,1"/></g>
<text transform="translate(3057.44,761.19) scale(0.2915,0.2785)" style="font-size:100px;font-weight:700" fill="#767475">飲水台</text>
<text transform="translate(3026.14,782.7) scale(1.1042,1)" style="font-size:17.1px;font-weight:400;stroke:#767475;stroke-width:0.8px" fill="#767475">Drinking Fountain</text>
<g transform="translate(2907.4,732)"><rect x="1" y="1" width="62.2" height="62.2" rx="7" ry="7" fill="#fff" stroke="#767475" stroke-width="2"/><circle cx="33" cy="15.3" r="8.85" fill="#EE767C"/><path d="M23,28 H42.5 Q46.5,28 49,32 Q53,39 54.3,45 Q55,49.5 52,50.6 L46.2,52.2 L48.6,59.3 H14.6 L18.4,50 Q13.5,53 10.6,50.6 Q8.6,48.6 10,45 L14.4,35 Q17,28 23,28 Z" fill="#EE767C"/><circle cx="46.3" cy="38.3" r="5.1" fill="#fff"/><path d="M26.2,46.2 L39.2,40 L42.9,45.3 L28,47.8 Q26,47.6 26.2,46.2 Z" fill="#fff"/><path d="M19.8,40.6 L22.3,38.4 Q23.4,38.2 23.2,39.4 L21.2,41.2 Z" fill="#fff"/><path d="M43.6,44.6 Q46,45.6 48.4,44.6" stroke="#fff" stroke-width="1" fill="none"/></g>
<text transform="translate(2881.04,829.49) scale(0.2937,0.2785)" style="font-size:100px;font-weight:700" fill="#767475">哺集乳室</text>
<text transform="translate(2881.29,851.4) scale(1.1078,1)" style="font-size:17.1px;font-weight:400;stroke:#767475;stroke-width:0.8px" fill="#767475">Breastfeeding</text>
<text transform="translate(2913.95,867.7) scale(1.1326,1)" style="font-size:17.1px;font-weight:400;stroke:#767475;stroke-width:0.8px" fill="#767475">Room</text>
<text transform="translate(3014.59,563.27) scale(0.3233,0.3032)" style="font-size:100px;font-weight:700" fill="#767475">地面層</text>
<text transform="translate(3014.61,583.5) scale(0.9765,1)" style="font-size:18.12px;font-weight:700" fill="#767475">Ground Level</text>
<text transform="translate(3014.71,890.17) scale(0.3229,0.3032)" style="font-size:100px;font-weight:700" fill="#767475">大廳層</text>
<text transform="translate(3014.59,912.8) scale(1.0174,1)" style="font-size:18.12px;font-weight:700" fill="#767475">Concourse Level</text>
<text transform="translate(3014.76,1236.8) scale(0.3200,0.3005)" style="font-size:100px;font-weight:700" fill="#767475">上層月台層</text>
<text transform="translate(3014.67,1259.7) scale(1.0261,1)" style="font-size:18.12px;font-weight:700" fill="#767475">Upper Platform Level</text>
<text transform="translate(3014.8,1564.44) scale(0.3199,0.2953)" style="font-size:100px;font-weight:700" fill="#767475">下層月台層</text>
<text transform="translate(3014.68,1587.1) scale(1.0238,1)" style="font-size:18.12px;font-weight:700" fill="#767475">Lower Platform Level</text>
<rect x="2596" y="1110.2" width="92" height="68" rx="10.5" ry="10.5" fill="#F7B41D"/><text transform="translate(2609.74,1145.2) scale(0.3300,0.3106)" style="font-size:100px;font-weight:700" fill="#120d09">蘆洲</text><text transform="translate(2605.58,1169) scale(0.9459,1)" style="font-size:21.59px;font-weight:700" fill="#120d09">Luzhou</text>
<rect x="2698.2" y="1110.2" width="94.7" height="68" rx="10.5" ry="10.5" fill="#F7B41D"/><text transform="translate(2712.79,1145.08) scale(0.3284,0.3074)" style="font-size:100px;font-weight:700" fill="#120d09">迴龍</text><text transform="translate(2708.1,1169) scale(0.9303,1)" style="font-size:21.59px;font-weight:700" fill="#120d09">Huilong</text>
<rect x="2803.3" y="1110.2" width="117.4" height="68" rx="10.5" ry="10.5" fill="#00865A"/><text transform="translate(2830.14,1145.2) scale(0.3302,0.3106)" style="font-size:100px;font-weight:700" fill="#fff">松山</text><text transform="translate(2812.82,1169) scale(0.9502,1)" style="font-size:21.59px;font-weight:700" fill="#fff">Songshan</text>
<polygon points="2995,1143.6 2966.14,1114.44 2948.11,1114.44 2971.16,1137.49 2937.08,1137.49 2937.08,1149.71 2971.16,1149.71 2948.11,1172.76 2966.14,1172.76" fill="#767475"/>
<rect x="140.7" y="1436.4" width="92.2" height="68" rx="10.5" ry="10.5" fill="#00865A"/><text transform="translate(154.59,1471.66) scale(0.3254,0.2821)" style="font-size:100px;font-weight:700" fill="#fff">新店</text><text transform="translate(150.17,1495.2) scale(0.9513,1)" style="font-size:21.59px;font-weight:700" fill="#fff">Xindian</text>
<rect x="243.2" y="1436.4" width="123.6" height="68" rx="10.5" ry="10.5" fill="#F7B41D"/><text transform="translate(255.97,1471.52) scale(0.3330,0.2821)" style="font-size:100px;font-weight:700" fill="#120d09">南勢角</text><text transform="translate(252.83,1495.2) scale(0.9486,1)" style="font-size:21.59px;font-weight:700" fill="#120d09">Nanshijiao</text>
<polygon points="66.5,1469.8 95.36,1440.64 113.39,1440.64 90.34,1463.69 124.42,1463.69 124.42,1475.91 90.34,1475.91 113.39,1498.96 95.36,1498.96" fill="#767475"/>
<text transform="translate(85.64,1673.39) scale(0.3905,0.3882)" style="font-size:100px;font-weight:400" fill="#120d09" stroke="#120d09" stroke-width="1.4">本示意圖僅供參考</text>
<text transform="translate(408.29,1672.8) scale(1.0041,1)" style="font-size:27.68px;font-weight:400;stroke:#120d09;stroke-width:0.5px" fill="#120d09">For reference only</text>
</svg>
</body></html>
